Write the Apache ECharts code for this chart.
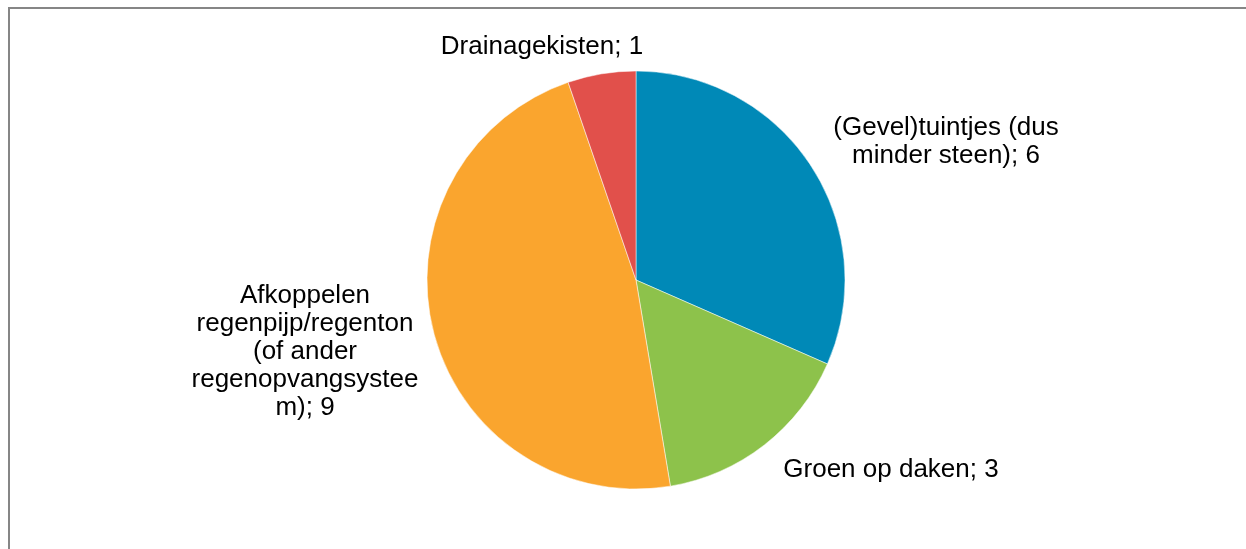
<!DOCTYPE html>
<html>
<head>
<meta charset="utf-8">
<script src="https://cdn.jsdelivr.net/npm/echarts@6/dist/echarts.min.js"></script>
<style>
  html, body { margin: 0; padding: 0; background: #fff; }
  #chart { width: 1246px; height: 549px; }
</style>
</head>
<body>
<div id="chart"></div>
<script>
/* Data (clockwise from 12 o'clock) */
let categories = [
  "(Gevel)tuintjes (dus minder steen)",
  "Groen op daken",
  "Afkoppelen regenpijp/regenton (of ander regenopvangsysteem)",
  "Drainagekisten",
];
let values = [6, 3, 9, 1];
/* Label text as wrapped in the original */
let labelLines = [
  ["(Gevel)tuintjes (dus", "minder steen); 6"],
  ["Groen op daken; 3"],
  ["Afkoppelen", "regenpijp/regenton", "(of ander", "regenopvangsystee", "m); 9"],
  ["Drainagekisten; 1"],
];

let COLORS = ["#0089b7", "#8dc24b", "#faa52e", "#e1504b"];

/* label anchor points (centre of each text block) */
let LABEL_POS = [
  [946, 142],
  [891, 470],
  [305, 352],
  [542, 47],
];

let chart = echarts.init(document.getElementById("chart"), null, { renderer: "canvas" });

chart.setOption({
  animation: false,
  backgroundColor: "#fff",
  color: COLORS,
  graphic: [
    {
      type: "rect",
      shape: { x: 9, y: 8, width: 1400, height: 700 },
      style: { fill: "none", stroke: "#868686", lineWidth: 2 },
      silent: true,
    },
  ],
  series: [
    {
      type: "pie",
      center: [636, 280],
      radius: 209,
      startAngle: 90,
      clockwise: true,
      itemStyle: { borderColor: "#fff", borderWidth: 0.5 },
      label: {
        show: true,
        position: "outside",
        color: "#000",
        fontFamily: "Liberation Sans, Arial, sans-serif",
        fontSize: 26,
        lineHeight: 28,
        align: "center",
        formatter: function (p) {
          return labelLines[p.dataIndex].join("\n");
        },
      },
      labelLine: { show: false },
      labelLayout: function (params) {
        let pos = LABEL_POS[params.dataIndex];
        return {
          x: pos[0],
          y: pos[1],
          align: "center",
          verticalAlign: "middle",
          hideOverlap: false,
        };
      },
      emphasis: { disabled: true },
      data: categories.map(function (name, i) {
        return { name: name, value: values[i] };
      }),
    },
  ],
});
</script>
</body>
</html>
